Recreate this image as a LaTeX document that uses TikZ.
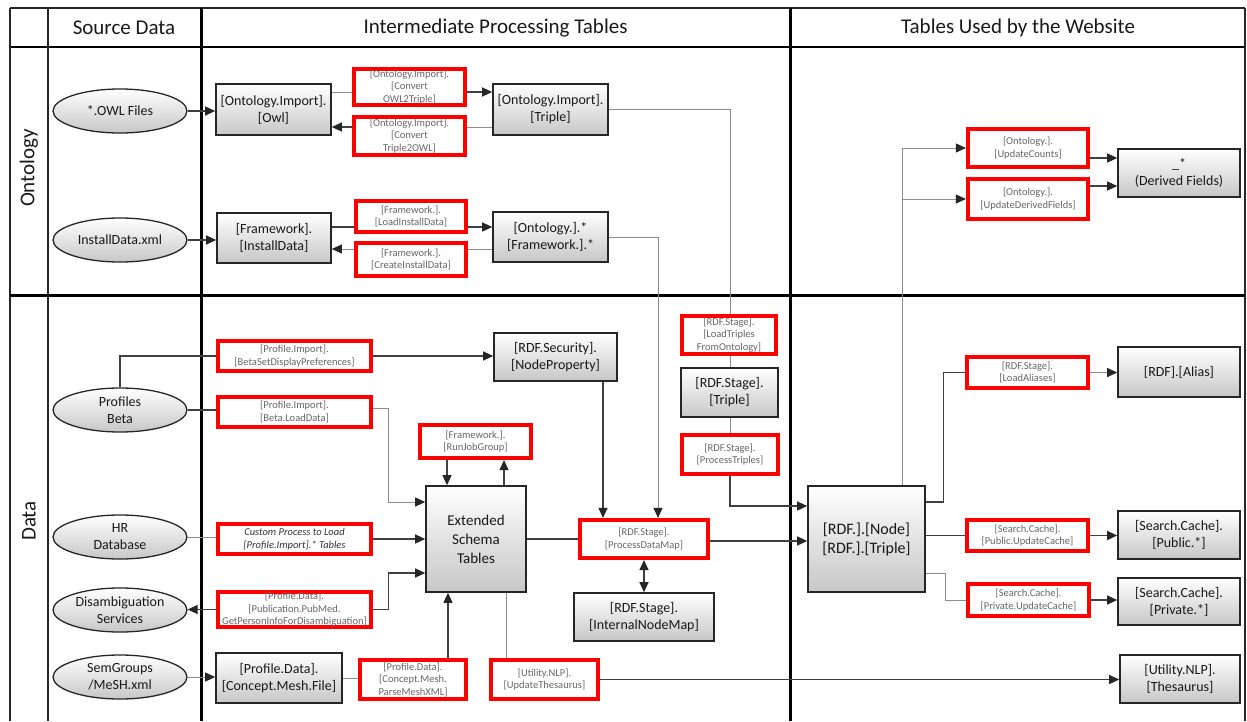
\documentclass[tikz,border=0pt]{standalone}
\usepackage{fontspec}
\setmainfont{Carlito}
\usetikzlibrary{shapes.geometric,arrows.meta,backgrounds,calc}
\newcommand{\nx}{\\{}}
\begin{document}
\begin{tikzpicture}[x=1pt,y=-1pt,
 bx/.style={draw=black!85, line width=1.6pt, top color=white, bottom color=black!22, font=\fontsize{14}{17}\selectfont, text=black!90, align=center, inner sep=0pt},
 rb/.style={draw=red, line width=4.2pt, fill=white, font=\fontsize{10.5}{12.5}\selectfont, text=black!60, align=center, inner sep=0pt},
 el/.style={ellipse, draw=black!85, line width=1.3pt, top color=white, bottom color=black!22, font=\fontsize{14}{17}\selectfont, text=black!90, align=center, inner sep=0pt, minimum width=134pt, minimum height=44pt},
 dk/.style={draw=black!75, line width=1.2pt},
 gy/.style={draw=black!45, line width=0.9pt},
 arr/.style={-{Triangle[length=10pt,width=9pt,color=black!85]}},
 hd/.style={font=\fontsize{21}{24}\selectfont, text=black!90},
 thin/.style={line width=1.3pt, black!85},
 thick/.style={line width=3pt, black}
]
\useasboundingbox (0,0) rectangle (1247,721);

% headers and row labels
\node[hd] (h1) at (124,28) {Source Data};
\node[hd] (h2) at (495.5,28) {Intermediate Processing Tables};
\node[hd] (h3) at (1018,28) {Tables Used by the Website};
\node[hd, rotate=90] (r1) at (29,168) {Ontology};
\node[hd, rotate=90] (r2) at (29,521) {Data};

% ---------- Ontology row ----------
\node[el] (owl) at (120,111) {*.OWL Files};
\node[el] (instx) at (120,240) {InstallData.xml};
\node[bx, minimum width=115pt, minimum height=51pt] (iowl) at (273.5,109.5) {[Ontology.Import].\nx[Owl]};
\node[bx, minimum width=114pt, minimum height=50pt] (fwinst) at (274,238) {[Framework].\nx[InstallData]};
\node[rb, minimum width=111pt, minimum height=36pt] (c1) at (409.5,87) {[Ontology.Import].\nx[Convert\nx OWL2Triple]};
\node[rb, minimum width=111pt, minimum height=38pt] (c2) at (409.5,136) {[Ontology.Import].\nx[Convert\nx Triple2OWL]};
\node[bx, minimum width=115pt, minimum height=51pt] (itriple) at (550.5,109.5) {[Ontology.Import].\nx[Triple]};
\node[rb, minimum width=110pt, minimum height=31pt] (c3) at (411,216.5) {[Framework.].\nx[LoadInstallData]};
\node[rb, minimum width=110pt, minimum height=33pt] (c4) at (411,259.5) {[Framework.].\nx[CreateInstallData]};
\node[bx, minimum width=115pt, minimum height=50pt] (ontstar) at (550.5,237) {[Ontology.].*\nx[Framework.].*};
\node[rb, minimum width=120pt, minimum height=38pt] (uc) at (1028,148) {[Ontology.].\nx[UpdateCounts]};
\node[rb, minimum width=120pt, minimum height=40pt] (udf) at (1028,199) {[Ontology.].\nx[UpdateDerivedFields]};
\node[bx, minimum width=122pt, minimum height=48pt] (df) at (1179,173) {\_*\nx(Derived Fields)};

% ---------- Data row ----------
\node[el] (pb) at (120,410) {Profiles\nx Beta};
\node[el] (hr) at (120,537) {HR\nx Database};
\node[el] (dis) at (120,610) {Disambiguation\nx Services};
\node[el] (sem) at (120,677) {SemGroups\nx/MeSH.xml};
\node[rb, minimum width=153pt, minimum height=30pt] (bsdp) at (294.5,356) {[Profile.Import].\nx[BetaSetDisplayPreferences]};
\node[rb, minimum width=153pt, minimum height=30pt] (bld) at (294.5,412) {[Profile.Import].\nx[Beta.LoadData]};
\node[rb, minimum width=153pt, minimum height=30pt, font=\fontsize{10.5}{12.5}\selectfont\itshape, text=black!80] (cust) at (294.5,539) {Custom Process to Load\nx[Profile.Import].* Tables};
\node[rb, minimum width=153pt, minimum height=35pt] (disr) at (294.5,609.5) {[Profile.Data].\nx[Publication.PubMed.\nx GetPersonInfoForDisambiguation]};
\node[bx, minimum width=126pt, minimum height=50pt] (cmf) at (279,678) {[Profile.Data].\nx[Concept.Mesh.File]};
\node[rb, minimum width=106pt, minimum height=39pt] (pmx) at (413,679.5) {[Profile.Data].\nx[Concept.Mesh.\nx ParseMeshXML]};
\node[rb, minimum width=107pt, minimum height=39pt] (utn) at (544.5,679.5) {[Utility.NLP].\nx[UpdateThesaurus]};
\node[bx, minimum width=123pt, minimum height=48pt] (np) at (555.5,357) {[RDF.Security].\nx[NodeProperty]};
\node[rb, minimum width=111pt, minimum height=33pt] (rjg) at (475.5,441.5) {[Framework.].\nx[RunJobGroup]};
\node[bx, minimum width=100pt, minimum height=106pt, font=\fontsize{15}{19}\selectfont] (ext) at (476,539) {Extended\nx Schema\nx Tables};
\node[rb, minimum width=128pt, minimum height=38pt] (pdm) at (644,539) {[RDF.Stage].\nx[ProcessDataMap]};
\node[bx, minimum width=140pt, minimum height=48pt] (inm) at (644,617) {[RDF.Stage].\nx[InternalNodeMap]};
\node[rb, minimum width=94pt, minimum height=38pt] (ltfo) at (729,335) {[RDF.Stage].\nx[LoadTriples\nx FromOntology]};
\node[bx, minimum width=97pt, minimum height=49pt] (stt) at (729.5,392.5) {[RDF.Stage].\nx[Triple]};
\node[rb, minimum width=96pt, minimum height=39pt] (ptr) at (730,454.5) {[RDF.Stage].\nx[ProcessTriples]};
\node[bx, minimum width=117pt, minimum height=106pt, font=\fontsize{16}{19}\selectfont] (rdf) at (866.5,539) {[RDF.].[Node]\nx[RDF.].[Triple]};
\node[rb, minimum width=121pt, minimum height=31pt] (la) at (1027.5,372.5) {[RDF.Stage].\nx[LoadAliases]};
\node[bx, minimum width=122pt, minimum height=50pt] (alias) at (1179,372) {[RDF].[Alias]};
\node[rb, minimum width=121pt, minimum height=31pt] (puc) at (1027.5,535.5) {[Search.Cache].\nx[Public.UpdateCache]};
\node[bx, minimum width=122pt, minimum height=48pt] (pub) at (1179,535) {[Search.Cache].\nx[Public.*]};
\node[rb, minimum width=121pt, minimum height=32pt] (prc) at (1028.5,600) {[Search.Cache].\nx[Private.UpdateCache]};
\node[bx, minimum width=122pt, minimum height=47pt] (pri) at (1179,601.5) {[Search.Cache].\nx[Private.*]};
\node[bx, minimum width=120pt, minimum height=48pt] (thes) at (1180,679) {[Utility.NLP].\nx[Thesaurus]};

\begin{scope}[on background layer]
\fill[white] (0,0) rectangle (1247,721);
% table grid
\draw[thin] (10,8) -- (1245,8);
\draw[line width=2pt, black] (10,47) -- (1245,47);
\draw[thin] (10,8) -- (10,721);
\draw[thin] (1245,8) -- (1245,721);
\draw[thin] (48,8) -- (48,721);
\draw[thick] (201,8) -- (201,721);
\draw[thick] (790,8) -- (790,721);
\draw[thick] (10,295) -- (1245,295);

% ontology connectors
\draw[dk,arr] (owl.east) -- (owl.east -| iowl.west);
\draw[dk,arr] (instx.east) -- (instx.east -| fwinst.west);
\draw[gy] ([yshift=17.5pt]iowl.east) -- ([yshift=17.5pt]iowl.east -| c1.west);
\draw[dk,arr] ([yshift=17.5pt]iowl.east -| c1.east) -- ([yshift=17.5pt]iowl.east -| itriple.west);
\draw[gy] ([yshift=-17.5pt]itriple.west) -- ([yshift=-17.5pt]itriple.west -| c2.east);
\draw[dk,arr] ([yshift=-17.5pt]itriple.west -| c2.west) -- ([yshift=-17.5pt]itriple.west -| iowl.east);
\draw[dk] ([yshift=11pt]fwinst.east) -- ([yshift=11pt]fwinst.east -| c3.west);
\draw[dk,arr] ([yshift=11pt]fwinst.east -| c3.east) -- ([yshift=11pt]fwinst.east -| ontstar.west);
\draw[gy] ([yshift=-12pt]ontstar.west) -- ([yshift=-12pt]ontstar.west -| c4.east);
\draw[gy,arr] ([yshift=-12pt]ontstar.west -| c4.west) -- ([yshift=-12pt]ontstar.west -| fwinst.east);
\draw[gy] (itriple.east) -| (ptr.center);
\draw[dk,arr] (ptr.south) |- ([yshift=33pt]rdf.west);
\draw[gy,arr] (ontstar.east) -| ([xshift=14pt]pdm.north);

% data connectors
\draw[dk,arr] ([xshift=47.5pt]np.south) -- ([xshift=47.5pt]np.south |- pdm.north);
\draw[dk] (pb.north) |- (bsdp.west);
\draw[dk,arr] (bsdp.east) -- (bsdp.east -| np.west);
\draw[dk] (pb.east) -- (pb.east -| bld.west);
\draw[gy,arr] ([yshift=4pt]bld.east) -- ++(15,0) |- ([yshift=37pt]ext.west);
\draw[gy] (hr.east) -- (hr.east -| cust.west);
\draw[dk,arr] (cust.east) -- (cust.east -| ext.west);
\draw[dk,arr] (disr.west) -- (disr.west -| dis.east);
\draw[dk,arr] (disr.east) -- ++(15,0) |- ([yshift=-34pt]ext.west);
\draw[gy,arr] (sem.east) -- (sem.east -| cmf.west);
\draw[gy] (cmf.east) -- (cmf.east -| pmx.west);
\draw[dk,arr] ([xshift=-28pt]ext.south |- pmx.north) -- ([xshift=-28pt]ext.south);
\draw[gy] ([xshift=30pt]ext.south) -- ([xshift=30pt]ext.south |- utn.north);
\draw[dk,arr] (utn.east) -- (utn.east -| thes.west);
\draw[dk,arr] ([xshift=-29pt]ext.north |- rjg.south) -- ([xshift=-29pt]ext.north);
\draw[dk,arr] ([xshift=28pt]ext.north) -- ([xshift=28pt]ext.north |- rjg.south);
\draw[dk] (ext.east) -- (ext.east -| pdm.west);
\draw[dk,arr] ([yshift=-2pt]pdm.east) -- ([yshift=-2pt]pdm.east -| rdf.west);
\draw[dk,{Triangle[length=10pt,width=9pt,color=black!85]}-{Triangle[length=10pt,width=9pt,color=black!85]}] (pdm.south) -- (pdm.south |- inm.north);
\draw[gy] ([xshift=35.5pt]rdf.north) -- ([xshift=35.5pt]rdf.north |- uc.west);
\draw[gy,arr] ([xshift=35.5pt]rdf.north |- uc.west) -- (uc.west);
\draw[gy,arr] ([xshift=35.5pt]rdf.north |- udf.west) -- (udf.west);
\draw[dk,arr] ([yshift=-10pt]uc.east) -- ([yshift=-10pt]uc.east -| df.west);
\draw[dk,arr] ([yshift=13pt]udf.east) -- ([yshift=13pt]udf.east -| df.west);
\draw[dk] ([yshift=37pt]rdf.east) -- ++(18,0) |- (la.west);
\draw[gy,arr] (la.east) -- (la.east -| alias.west);
\draw[dk] (rdf.east |- puc.west) -- (puc.west);
\draw[dk,arr] (puc.east) -- (puc.east -| pub.west);
\draw[gy] ([yshift=-34pt]rdf.east) -- ++(20,0) |- (prc.west);
\draw[dk,arr] (prc.east) -- (prc.east -| pri.west);
\end{scope}
\end{tikzpicture}
\end{document}
